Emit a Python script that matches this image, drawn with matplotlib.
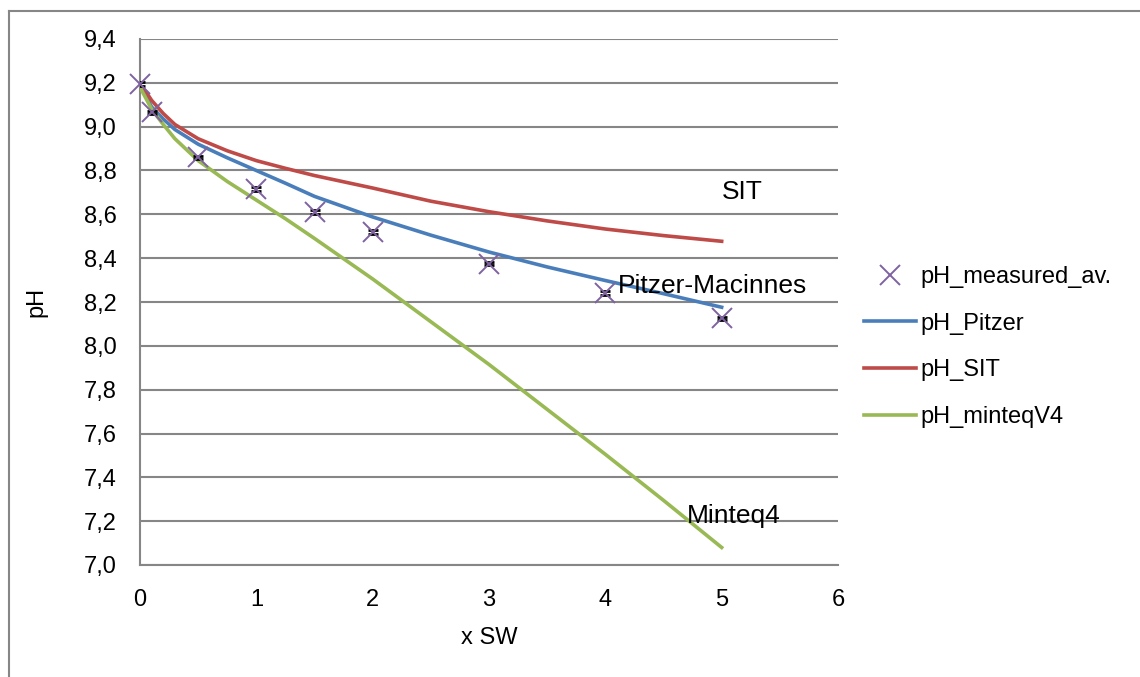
import matplotlib
matplotlib.use("Agg")
import matplotlib.pyplot as plt
from matplotlib.lines import Line2D

plt.rcParams['font.family'] = ['Liberation Sans', 'DejaVu Sans']

# data
x_meas = [0, 0.1, 0.5, 1, 1.5, 2, 3, 4, 5]
ph_measured = [9.195, 9.065, 8.86, 8.715, 8.61, 8.52, 8.375, 8.24, 8.125]
ph_err = [0.008] * len(x_meas)

x_model = [0, 0.05, 0.1, 0.2, 0.3, 0.5, 0.75, 1, 1.25, 1.5, 2, 2.5, 3, 3.5, 4, 4.5, 5]
ph_pitzer = [9.19, 9.14, 9.09, 9.035, 8.987, 8.92, 8.858, 8.80, 8.742, 8.682,
             8.588, 8.505, 8.428, 8.36, 8.298, 8.238, 8.176]
ph_sit = [9.19, 9.16, 9.12, 9.06, 9.01, 8.945, 8.89, 8.845, 8.81, 8.777,
          8.72, 8.66, 8.612, 8.57, 8.533, 8.503, 8.477]
ph_minteq = [9.18, 9.13, 9.08, 9.01, 8.945, 8.845, 8.75, 8.665, 8.58, 8.49,
             8.305, 8.11, 7.915, 7.71, 7.505, 7.295, 7.08]

yticks = [7.0, 7.2, 7.4, 7.6, 7.8, 8.0, 8.2, 8.4, 8.6, 8.8, 9.0, 9.2, 9.4]
xticks = [0, 1, 2, 3, 4, 5, 6]

BLUE = '#4A7EBB'
RED = '#BE4B48'
GREEN = '#98B954'
PURPLE = '#7F63A1'
GRID = '#868686'

fig = plt.figure(figsize=(11.4, 6.77), dpi=100)
ax = fig.add_axes([140/1140, 1-565/677, (838-140)/1140, (565-39)/677])

ax.set_xlim(0, 6)
ax.set_ylim(7.0, 9.4)
ax.set_yticks(yticks)
ax.set_yticklabels([f"{v:.1f}".replace('.', ',') for v in yticks])
ax.set_xticks(xticks)
ax.set_xticklabels([str(v) for v in xticks])
ax.tick_params(axis='both', length=0, labelsize=17)
ax.tick_params(axis='y', pad=17)
ax.tick_params(axis='x', pad=17)
ax.grid(axis='y', color=GRID, linewidth=1.5)
ax.set_axisbelow(True)
for s in ['top', 'right']:
    ax.spines[s].set_visible(False)
for s in ['left', 'bottom']:
    ax.spines[s].set_color(GRID)
    ax.spines[s].set_linewidth(1.5)

ax.plot(x_model, ph_pitzer, color=BLUE, lw=2.6, zorder=3)
ax.plot(x_model, ph_sit, color=RED, lw=2.6, zorder=3)
ax.plot(x_model, ph_minteq, color=GREEN, lw=2.6, zorder=3)
ax.errorbar(x_meas, ph_measured, yerr=ph_err, fmt='none', ecolor='black',
            elinewidth=1.4, capsize=3.5, capthick=2.0, zorder=4)
ax.plot(x_meas, ph_measured, linestyle='none', marker='x', markersize=15,
        markeredgewidth=1.4, color=PURPLE, zorder=5, clip_on=False)

ax.text(5.0, 8.70, 'SIT', fontsize=19, va='center', ha='left')
ax.text(4.11, 8.275, 'Pitzer-Macinnes', fontsize=19, va='center', ha='left')
ax.text(4.70, 7.223, 'Minteq4', fontsize=19, va='center', ha='left')

ax.set_ylabel('pH', fontsize=17, labelpad=26)
ax.set_xlabel('x SW', fontsize=17, labelpad=12)

handles = [
    Line2D([], [], linestyle='none', marker='x', markersize=15, markeredgewidth=1.4, color=PURPLE),
    Line2D([], [], color=BLUE, lw=2.6),
    Line2D([], [], color=RED, lw=2.6),
    Line2D([], [], color=GREEN, lw=2.6),
]
labels = ['pH_measured_av.', 'pH_Pitzer', 'pH_SIT', 'pH_minteqV4']
fig.legend(handles, labels, loc='center left', bbox_to_anchor=(852/1140, 1-347/677),
           frameon=False, fontsize=17, handlelength=2.2, handletextpad=0.2,
           labelspacing=1.05, borderpad=0)

# outer frame (left and top edges visible)
fig.add_artist(Line2D([9/1140, 9/1140], [0, 1-11/677], transform=fig.transFigure,
                      color=GRID, lw=1.5))
fig.add_artist(Line2D([9/1140, 1], [1-11/677, 1-11/677], transform=fig.transFigure,
                      color=GRID, lw=1.5))

fig.savefig('out.png', dpi=100)
